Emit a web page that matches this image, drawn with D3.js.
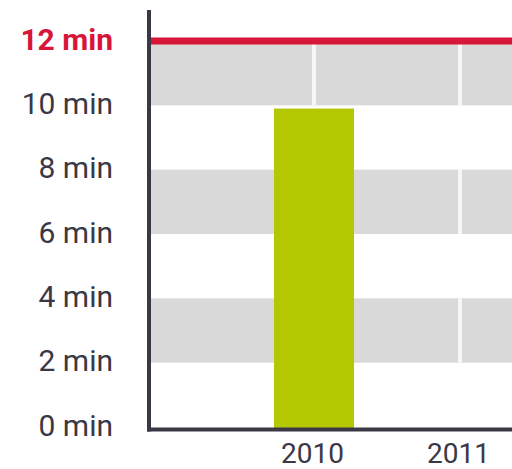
<!DOCTYPE html>
<html>
<head>
<meta charset="utf-8">
<script src="https://cdn.jsdelivr.net/npm/d3@7"></script>
<style>
  html, body { margin: 0; padding: 0; background: #ffffff; }
  svg { display: block; }
</style>
</head>
<body>
<svg id="chart" width="512" height="469"></svg>
<script>
// ---- data ----
const categories = ["2010", "2011"];
const values = [9.9, null];           // 2011 has no bar
const yTicks = [0, 2, 4, 6, 8, 10, 12];
const yTickLabels = ["0 min", "2 min", "4 min", "6 min", "8 min", "10 min", "12 min"];
const targetValue = 12;
const shadedBands = [[10, 12], [6, 8], [2, 4]];

// ---- layout ----
const plotLeft = 151, plotRight = 512;
const svg = d3.select("#chart");

const y = d3.scaleLinear().domain([0, 12]).range([427, 41]);
const x = d3.scalePoint().domain(categories).range([314, 460]);
const barWidth = 80;

const textColor = "#3a3845";
const red = "#d7163a";
const green = "#b3c800";
const grey = "#d9d9d9";
const font = "Roboto, 'Noto Sans', sans-serif";

// shaded bands
svg.append("g").selectAll("rect")
  .data(shadedBands)
  .join("rect")
  .attr("x", plotLeft)
  .attr("width", plotRight - plotLeft)
  .attr("y", d => y(d[1]))
  .attr("height", d => y(d[0]) - y(d[1]))
  .attr("fill", grey);

// white vertical category lines inside bands
const vl = svg.append("g");
shadedBands.forEach(b => {
  vl.selectAll(null)
    .data(categories)
    .join("rect")
    .attr("x", d => x(d) - 2)
    .attr("width", 4)
    .attr("y", y(b[1]))
    .attr("height", y(b[0]) - y(b[1]))
    .attr("fill", "#f7f7f7");
});

// bars
svg.append("g").selectAll("rect")
  .data(categories.map((c, i) => ({ c, v: values[i] })).filter(d => d.v != null))
  .join("rect")
  .attr("x", d => x(d.c) - barWidth / 2)
  .attr("width", barWidth)
  .attr("y", d => y(d.v))
  .attr("height", d => y(0) - y(d.v) + 1)
  .attr("fill", green);

// target line
svg.append("line")
  .attr("x1", plotLeft).attr("x2", plotRight)
  .attr("y1", y(targetValue)).attr("y2", y(targetValue))
  .attr("stroke", red).attr("stroke-width", 7);

// axes lines
svg.append("line")
  .attr("x1", 149).attr("x2", 149)
  .attr("y1", 10).attr("y2", 431.5)
  .attr("stroke", textColor).attr("stroke-width", 4);
svg.append("line")
  .attr("x1", 147).attr("x2", 512)
  .attr("y1", 429.5).attr("y2", 429.5)
  .attr("stroke", textColor).attr("stroke-width", 4);

// y axis labels
const yAxis = d3.axisLeft(y)
  .tickValues(yTicks)
  .tickFormat((d, i) => yTickLabels[i])
  .tickSize(0)
  .tickPadding(0);
const gy = svg.append("g").attr("transform", "translate(113,0)").call(yAxis);
gy.select(".domain").remove();
gy.selectAll("text")
  .attr("font-family", font)
  .attr("font-size", 30)
  .attr("dy", "0.27em")
  .attr("fill", d => d === targetValue ? red : textColor)
  .attr("font-weight", d => d === targetValue ? "bold" : "normal");

// x axis labels
const xAxis = d3.axisBottom(x).tickSize(0).tickPadding(0);
const gx = svg.append("g").attr("transform", "translate(-2,443)").call(xAxis);
gx.select(".domain").remove();
gx.selectAll("text")
  .attr("font-family", font)
  .attr("font-size", 28)
  .attr("dy", "0.71em")
  .attr("fill", textColor);
</script>
</body>
</html>
